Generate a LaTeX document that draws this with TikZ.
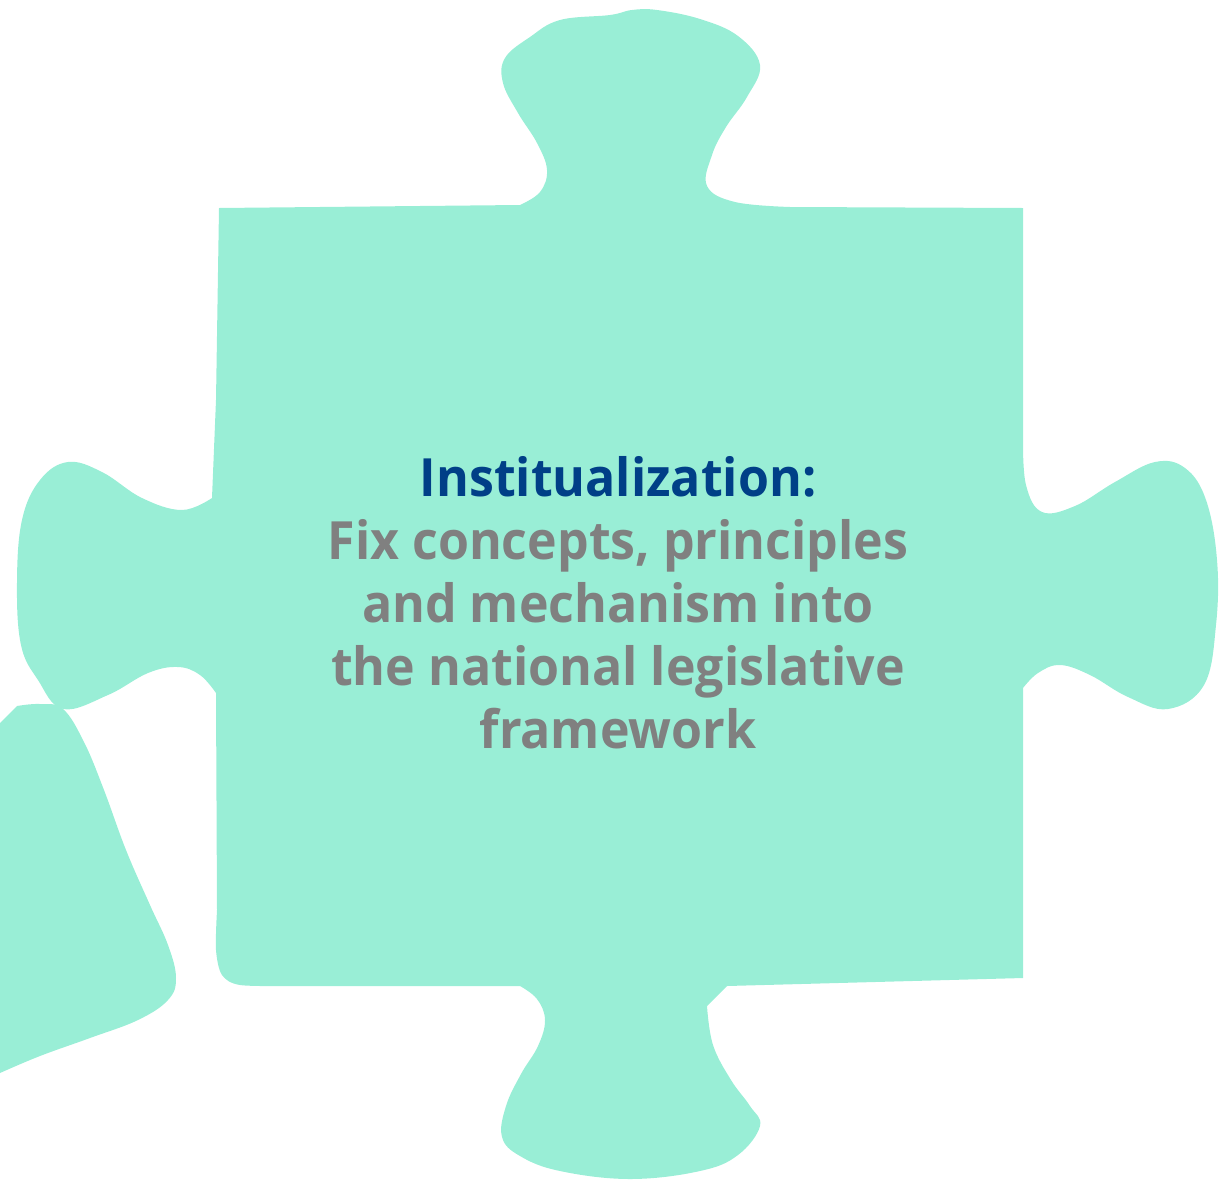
\documentclass[tikz,border=0pt]{standalone}
\usepackage{fontspec}
\setmainfont{Open Sans}[FakeStretch=0.95]
\usepackage{tikz}

\definecolor{mint}{HTML}{99EED6}
\definecolor{deepblue}{HTML}{003F87}
\definecolor{textgray}{HTML}{808080}

\begin{document}
\begin{tikzpicture}[x=0.02cm, y=-0.02cm,
    piece/.style={fill=mint},
    caption/.style={align=center, font=\bfseries\fontsize{30}{35.9}\selectfont, text=textgray}]
      \useasboundingbox (0, 0) rectangle (1219, 1180);
      % main piece
      \fill [piece] (219, 208) -- (520, 205)
        -- plot [smooth, tension=0.65] coordinates {
          (520, 205) (540, 192) (547, 170) (537, 143) (518, 113) (503, 83) (505, 58)
          (530, 37) (560, 20) (610, 15) (632, 10) (657, 10) (700, 19) (738, 36)
          (760, 65) (747, 97) (726, 127) (712, 155) (707, 186) (735, 202) (790, 207)
        } -- (1023, 208) -- (1023, 440)
        -- plot [smooth, tension=0.65] coordinates {
          (1023, 440) (1026, 485) (1042, 512) (1075, 506) (1115, 482) (1155, 462)
          (1185, 468) (1206, 500) (1217, 560) (1216, 625) (1204, 685) (1168, 709)
          (1128, 697) (1090, 675) (1060, 665) (1038, 673) (1023, 688)
        } -- (1023, 978) -- (727, 986) -- (707, 1006)
        -- plot [smooth, tension=0.65] coordinates {
          (707, 1006) (713, 1045) (731, 1080) (750, 1106) (760, 1126) (738, 1155)
          (700, 1171) (630, 1179) (560, 1171) (520, 1156) (502, 1137) (506, 1106)
          (521, 1074) (538, 1046) (545, 1020) (537, 999) (520, 986)
        } -- (290, 986)
        -- plot [smooth] coordinates {
          (290, 986) (240, 985) (222, 975) (216, 950) (217, 910)
        } -- (216, 693)
        -- plot [smooth, tension=0.65] coordinates {
          (216, 693) (200, 675) (178, 667) (148, 673) (108, 695) (63, 709) (38, 680)
          (21, 645) (17, 583) (22, 520) (40, 480) (68, 462) (102, 472) (142, 498)
          (182, 510) (212, 498)
        } -- (216, 400) -- cycle;
      % neighbour piece
      \fill [piece] (0, 723) -- (17, 706)
        -- plot [smooth, tension=0.65] coordinates {
          (17, 706) (40, 704) (63, 709) (84, 742) (104, 790) (126, 850) (150, 905)
          (168, 945) (176, 978) (168, 1000) (138, 1020) (90, 1038) (40, 1056) (0, 1073)
        } -- cycle;
      \node [caption] (label) at (618, 603) {%
        \textcolor{deepblue}{Institualization:}\\
        Fix concepts, principles\\
        and mechanism into\\
        the national legislative\\
        framework};
    \end{tikzpicture}
\end{document}
